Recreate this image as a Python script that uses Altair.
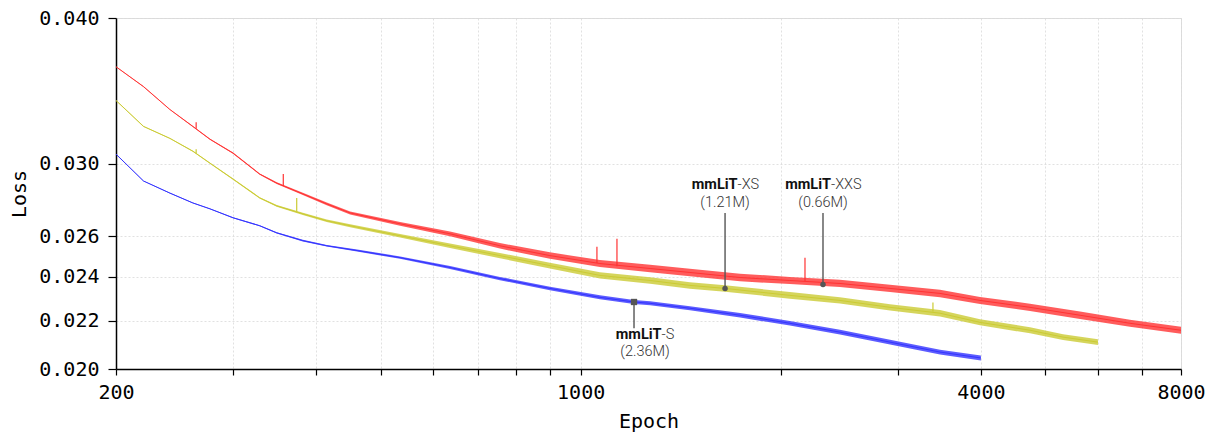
import altair as alt
import pandas as pd

# ---------------- data ----------------
SERIES = ["mmLiT-XXS", "mmLiT-XS", "mmLiT-S"]
COLORS = ["#ff3333", "#cbcb33", "#3333ff"]

xxs_epoch = [200, 220, 241, 261, 277, 300, 329, 349, 382, 415, 450, 535, 636, 756, 899,
             1069, 1272, 1460, 1737, 2064, 2455, 2920, 3472, 3988, 4742, 5639, 6702, 8000]
xxs_loss = [0.03633, 0.03493, 0.03339, 0.03229, 0.03148, 0.03063, 0.02939, 0.02887, 0.02826,
            0.02771, 0.02722, 0.02664, 0.02612, 0.02551, 0.02502, 0.02463, 0.02439, 0.02420,
            0.02396, 0.02382, 0.02368, 0.02345, 0.02322, 0.02290, 0.02259, 0.02224, 0.02189,
            0.02159]
xxs_spread = [0.00002, 0.00002, 0.00002, 0.00003, 0.00003, 0.00004, 0.00004, 0.00005, 0.00006,
              0.00007, 0.00008, 0.00010, 0.00012, 0.00014, 0.00016, 0.00017, 0.00018, 0.00018,
              0.00018, 0.00017, 0.00017, 0.00017, 0.00017, 0.00016, 0.00016, 0.00016, 0.00015,
              0.00015]

xs_epoch = [200, 220, 241, 261, 277, 300, 329, 349, 382, 415, 450, 535, 636, 756, 899,
            1069, 1272, 1460, 1649, 2064, 2455, 2920, 3472, 3988, 4742, 5317, 6000]
xs_loss = [0.03399, 0.03229, 0.03154, 0.03075, 0.03003, 0.02910, 0.02804, 0.02760, 0.02717,
           0.02680, 0.02654, 0.02602, 0.02551, 0.02502, 0.02453, 0.02406, 0.02382, 0.02359,
           0.02345, 0.02313, 0.02290, 0.02259, 0.02233, 0.02193, 0.02159, 0.02130, 0.02109]
xs_spread = [0.00002, 0.00002, 0.00002, 0.00003, 0.00003, 0.00004, 0.00004, 0.00005, 0.00006,
             0.00007, 0.00008, 0.00009, 0.00011, 0.00013, 0.00014, 0.00015, 0.00015, 0.00015,
             0.00015, 0.00015, 0.00014, 0.00014, 0.00014, 0.00013, 0.00013, 0.00012, 0.00012]

s_epoch = [200, 220, 241, 261, 277, 300, 329, 349, 382, 415, 461, 535, 636, 756, 899,
           1069, 1203, 1272, 1460, 1737, 2064, 2455, 2920, 3472, 4000]
s_loss = [0.03057, 0.02899, 0.02831, 0.02776, 0.02744, 0.02696, 0.02654, 0.02617, 0.02577,
          0.02551, 0.02527, 0.02492, 0.02444, 0.02391, 0.02345, 0.02304, 0.02283, 0.02277,
          0.02255, 0.02224, 0.02189, 0.02151, 0.02109, 0.02068, 0.02044]
s_spread = [0.00001, 0.00001, 0.00002, 0.00002, 0.00002, 0.00003, 0.00003, 0.00003, 0.00004,
            0.00004, 0.00005, 0.00006, 0.00007, 0.00008, 0.00008, 0.00009, 0.00009, 0.00009,
            0.00009, 0.00010, 0.00010, 0.00010, 0.00010, 0.00010, 0.00010]

# isolated spikes (series, epoch, base loss, top loss)
spike_series = ["mmLiT-XXS", "mmLiT-XXS", "mmLiT-XXS", "mmLiT-XXS", "mmLiT-XXS",
                "mmLiT-XS", "mmLiT-XS", "mmLiT-XS"]
spike_epoch = [264, 357, 1058, 1134, 2175, 264, 374, 3388]
spike_base = [0.03214, 0.02870, 0.02466, 0.02450, 0.02380, 0.03063, 0.02730, 0.02240]
spike_top = [0.03255, 0.02939, 0.02546, 0.02587, 0.02492, 0.03087, 0.02804, 0.02281]

# annotations
ann_bold = ["mmLiT", "mmLiT", "mmLiT"]
ann_suffix = ["-S", "-XS", "-XXS"]
ann_params = ["(2.36M)", "(1.21M)", "(0.66M)"]
ann_epoch = [1203, 1649, 2315]
ann_loss = [0.02283, 0.02345, 0.02363]
ann_line_end = [0.02168, 0.02722, 0.02722]
ann_text_epoch = [1250, 1649, 2315]
ann_text_loss1 = [0.02138, 0.02876, 0.02876]
ann_text_loss2 = [0.02068, 0.02776, 0.02776]

x_ticks = [200, 300, 400, 500, 600, 700, 800, 900, 1000, 2000, 3000, 4000, 5000, 6000, 7000, 8000]
x_labels = [200, 1000, 4000, 8000]
y_ticks = [0.020, 0.022, 0.024, 0.026, 0.030, 0.040]

# ---------------- chart ----------------
MONO = "DejaVu Sans Mono"
ANN_FONT = "Roboto"


def frame(name, e, l, s):
    df = pd.DataFrame({"epoch": e, "loss": l, "spread": s})
    df["lo"] = df["loss"] - df["spread"]
    df["hi"] = df["loss"] + df["spread"]
    df["series"] = name
    return df


frames = {
    "mmLiT-XXS": frame("mmLiT-XXS", xxs_epoch, xxs_loss, xxs_spread),
    "mmLiT-XS": frame("mmLiT-XS", xs_epoch, xs_loss, xs_spread),
    "mmLiT-S": frame("mmLiT-S", s_epoch, s_loss, s_spread),
}

x_scale = alt.Scale(type="log", domain=[200, 8000], nice=False)
y_scale = alt.Scale(type="log", domain=[0.02, 0.04], nice=False)

label_list = ",".join(str(v) for v in x_labels)
x_axis = alt.Axis(
    values=x_ticks, format="d",
    labelExpr=f"indexof([{label_list}], datum.value) >= 0 ? datum.label : ''",
    labelFlush=False, labelOverlap=False, labelFont=MONO, labelFontSize=20,
    labelColor="black", labelPadding=7, tickSize=6, tickColor="black", tickWidth=1.2,
    domainColor="black", domainWidth=1.5, grid=True, gridColor="#d9d9d9", gridDash=[2, 2],
    gridWidth=0.8, titleFont=MONO, titleFontSize=20, titleFontWeight="normal",
    titleColor="black", titlePadding=9,
)
y_axis = alt.Axis(
    values=y_ticks, format=".3f", labelFlush=False, labelOverlap=False, labelFont=MONO,
    labelFontSize=20, labelColor="black", labelPadding=9, tickSize=8, tickColor="black",
    tickWidth=1.2, domainColor="black", domainWidth=1.5, grid=True, gridColor="#d9d9d9",
    gridDash=[2, 2], gridWidth=0.8, titleFont=MONO, titleFontSize=20,
    titleFontWeight="normal", titleColor="black", titlePadding=9,
)

X = alt.X("epoch:Q", scale=x_scale, axis=x_axis, title="Epoch")
Y = alt.Y("loss:Q", scale=y_scale, axis=y_axis, title="Loss")

layers = []
for name, col in zip(SERIES, COLORS):
    df = frames[name]
    band = alt.Chart(df).mark_area(color=col, opacity=0.8).encode(
        x=X, y=alt.Y("lo:Q", scale=y_scale, axis=y_axis, title="Loss"), y2="hi:Q"
    )
    line = alt.Chart(df).mark_line(color=col, strokeWidth=1.0).encode(x=X, y=Y)
    layers += [band, line]

spikes = pd.DataFrame({"series": spike_series, "epoch": spike_epoch,
                       "loss": spike_base, "top": spike_top})
for name, col in zip(SERIES, COLORS):
    sub = spikes[spikes["series"] == name]
    if len(sub):
        layers.append(alt.Chart(sub).mark_rule(color=col, strokeWidth=1.2).encode(
            x=X, y=Y, y2="top:Q"))

ann = pd.DataFrame({
    "bold": ann_bold, "suffix": ann_suffix, "params": ann_params,
    "epoch": ann_epoch, "loss": ann_loss, "end": ann_line_end,
    "tepoch": ann_text_epoch, "t1": ann_text_loss1, "t2": ann_text_loss2,
})

layers.append(alt.Chart(ann).mark_rule(color="#555555", strokeWidth=1.4).encode(
    x=X, y=Y, y2="end:Q"))
layers.append(alt.Chart(ann.iloc[[0]]).mark_square(color="#555555", opacity=1, size=40).encode(
    x=X, y=Y))
layers.append(alt.Chart(ann.iloc[[1, 2]]).mark_circle(color="#555555", opacity=1, size=30).encode(
    x=X, y=Y))

# approximate pixel widths of the bold part and the suffix, for centring the composite label
BOLD_W = 45
SUF_W = {"-S": 12, "-XS": 20, "-XXS": 29}
TY1 = alt.Y("t1:Q", scale=y_scale, axis=y_axis, title="Loss")
TY2 = alt.Y("t2:Q", scale=y_scale, axis=y_axis, title="Loss")
TX = alt.X("tepoch:Q", scale=x_scale, axis=x_axis, title="Epoch")
for i in range(len(ann)):
    row = ann.iloc[[i]]
    w_s = SUF_W[ann_suffix[i]]
    split = (BOLD_W - w_s) / 2.0
    layers.append(alt.Chart(row).mark_text(
        font=ANN_FONT, fontSize=14.5, fontWeight="bold", color="#111111",
        align="right", baseline="middle", dx=split).encode(x=TX, y=TY1, text="bold:N"))
    layers.append(alt.Chart(row).mark_text(
        font=ANN_FONT, fontSize=14.5, fontWeight=300, color="#333333",
        align="left", baseline="middle", dx=split).encode(x=TX, y=TY1, text="suffix:N"))
    layers.append(alt.Chart(row).mark_text(
        font=ANN_FONT, fontSize=14.5, fontWeight=300, color="#333333",
        align="center", baseline="middle").encode(x=TX, y=TY2, text="params:N"))

chart = alt.layer(*layers).properties(
    width=1065, height=351,
    autosize=alt.AutoSizeParams(type="none"),
    padding={"left": 108, "top": 10, "right": 27, "bottom": 68},
).configure_view(stroke="black", strokeWidth=1.5).configure(background="white")

chart.save("out.html", embed_options={"renderer": "svg", "actions": False})
